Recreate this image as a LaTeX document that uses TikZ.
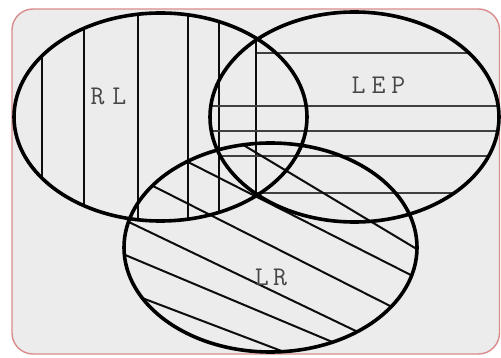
\documentclass[tikz,border=0pt]{standalone}
\definecolor{framered}{RGB}{218,140,140}
\definecolor{panel}{RGB}{236,236,236}
\definecolor{labelgray}{RGB}{70,70,70}
\begin{document}
\begin{tikzpicture}[x=1pt,y=-1pt,
  outline/.style={line width=3.6pt, draw=black},
  vhatch/.style={line width=2.1pt, draw=black!95},
  hhatch/.style={line width=2.1pt, draw=black!75},
  dhatch/.style={line width=2pt, draw=black!95},
  lbl/.style={font=\ttfamily\fontsize{27}{27}\selectfont, text=labelgray, inner sep=0pt}]
\useasboundingbox (0,0) rectangle (501,358);
\draw[framered, fill=panel, line width=1.4pt, rounded corners=21pt] (12,9) rectangle (499.5,354);
% vertical hatching in RL
\begin{scope}
  \clip (160.5,117) ellipse [x radius=146.5, y radius=104];
  \foreach \x in {42,84,138,188,219,256} \draw[vhatch] (\x,0) -- (\x,240);
\end{scope}
% horizontal hatching in LEP
\begin{scope}
  \clip (354.5,117) ellipse [x radius=144.5, y radius=105];
  \draw[hhatch] (257,53) -- (520,53);
  \foreach \y in {106,131,156,193} \draw[hhatch] (190,\y) -- (520,\y);
\end{scope}
% diagonal hatching in LR
\begin{scope}
  \clip (270.5,247.5) ellipse [x radius=146.5, y radius=104.5];
  \draw[dhatch] (100,59) -- (440,263);
  \draw[dhatch] (100,117.4) -- (440,289.8);
  \draw[dhatch] (100,159.2) -- (440,331.2);
  \draw[dhatch] (100,208.2) -- (440,371.4);
  \draw[dhatch] (100,244.4) -- (440,387.2);
  \draw[dhatch] (100,282) -- (440,411.2);
\end{scope}
% outlines
\draw[outline] (160.5,117) ellipse [x radius=146.5, y radius=104];
\draw[outline] (354.5,117) ellipse [x radius=144.5, y radius=105];
\draw[outline] (270.5,247.5) ellipse [x radius=146.5, y radius=104.5];
% labels
\node[lbl] (rl) at (108.5,96.5) {R\kern8pt L};
\node[lbl] (lep) at (378.5,85.5) {L\kern6pt E\kern6pt P};
\node[lbl] (lr) at (271,277) {L\kern4.5pt R};
\end{tikzpicture}
\end{document}
